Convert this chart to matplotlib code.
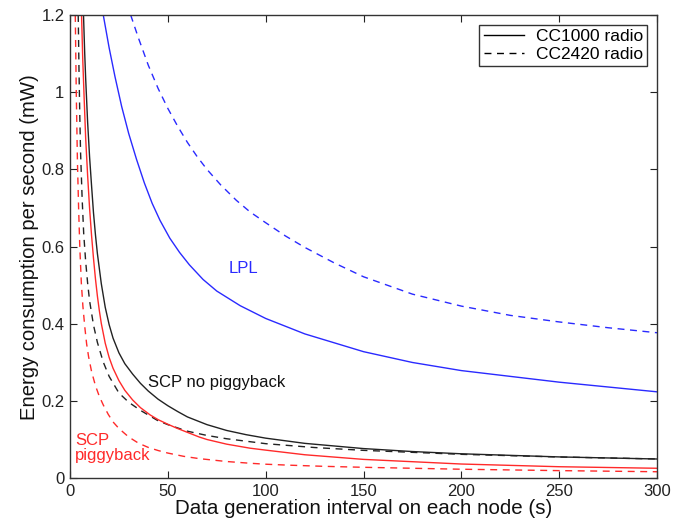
import matplotlib
matplotlib.use("Agg")
import matplotlib.pyplot as plt
from matplotlib.lines import Line2D

plt.rcParams["font.family"] = ["Liberation Sans", "DejaVu Sans"]

# Energy consumption per second (mW) against the data generation interval (s)

# LPL, CC1000 radio
lpl_cc1000_x = [17, 20, 23, 26.4, 30, 34, 38, 42, 46, 51, 56, 61, 68, 75, 87, 100, 120, 150, 175, 200, 250, 300]
lpl_cc1000_y = [1.2, 1.115, 1.04, 0.963, 0.893, 0.826, 0.765, 0.712, 0.668, 0.622, 0.585, 0.553, 0.515, 0.485, 0.447, 0.414, 0.374, 0.328, 0.300, 0.279, 0.249, 0.224]

# LPL, CC2420 radio
lpl_cc2420_x = [31, 35, 40, 45, 50, 55, 60, 65, 70, 77, 85, 92, 100, 110, 120, 135, 150, 175, 200, 225, 250, 275, 300]
lpl_cc2420_y = [1.2, 1.14, 1.07, 1.01, 0.958, 0.912, 0.870, 0.833, 0.80, 0.76, 0.72, 0.69, 0.662, 0.628, 0.598, 0.558, 0.522, 0.477, 0.446, 0.422, 0.405, 0.390, 0.377]

# SCP without piggyback, CC1000 radio
scp_cc1000_x = [6.9, 7.5, 8, 9, 10, 11, 12, 13, 14, 16, 18, 20, 22, 25, 28, 32, 36, 40, 45, 50, 55, 60, 70, 80, 90, 100, 120, 150, 175, 200, 250, 300]
scp_cc1000_y = [1.2, 1.103, 1.036, 0.923, 0.833, 0.759, 0.688, 0.631, 0.582, 0.504, 0.443, 0.398, 0.363, 0.325, 0.297, 0.270, 0.246, 0.226, 0.205, 0.188, 0.173, 0.159, 0.139, 0.124, 0.113, 0.104, 0.0905, 0.077, 0.0693, 0.0635, 0.0554, 0.050]

# SCP without piggyback, CC2420 radio
scp_cc2420_x = [4.2, 4.6, 5.0, 5.4, 6.2, 7.0, 8.0, 9.0, 10, 12, 14, 17, 20, 25, 30, 36, 45, 50, 60, 70, 80, 100, 125, 150, 200, 250, 300]
scp_cc2420_y = [1.2, 1.056, 0.940, 0.844, 0.725, 0.634, 0.562, 0.506, 0.460, 0.397, 0.352, 0.301, 0.264, 0.221, 0.197, 0.176, 0.149, 0.139, 0.122, 0.111, 0.1025, 0.0897, 0.0797, 0.0724, 0.0621, 0.0552, 0.0501]

# SCP with piggyback, CC1000 radio
scpp_cc1000_x = [5.9, 6.5, 7.3, 8, 9, 10, 11, 12, 13, 14, 15, 16, 18, 20, 22, 25, 28, 32, 36, 41, 45, 50, 55, 60, 66, 70, 80, 92, 100, 120, 150, 200, 250, 300]
scpp_cc1000_y = [1.2, 1.087, 0.975, 0.882, 0.785, 0.70, 0.63, 0.57, 0.517, 0.472, 0.434, 0.401, 0.350, 0.313, 0.285, 0.253, 0.228, 0.203, 0.183, 0.164, 0.152, 0.140, 0.129, 0.119, 0.107, 0.1005, 0.0885, 0.078, 0.073, 0.061, 0.049, 0.037, 0.030, 0.026]

# SCP with piggyback, CC2420 radio
scpp_cc2420_x = [2.7, 3.2, 3.8, 4.4, 5.0, 5.8, 6.6, 7.6, 8.5, 9.5, 11, 13, 15, 17, 19.5, 22, 25, 30, 35, 40, 45, 50, 58, 66, 80, 92, 100, 112, 130, 150, 175, 200, 250, 300]
scpp_cc2420_y = [1.2, 1.0, 0.82, 0.70, 0.60, 0.505, 0.445, 0.39, 0.348, 0.315, 0.277, 0.240, 0.212, 0.19, 0.166, 0.146, 0.129, 0.107, 0.091, 0.080, 0.072, 0.0654, 0.057, 0.051, 0.0435, 0.039, 0.0365, 0.034, 0.031, 0.0285, 0.026, 0.0235, 0.0199, 0.017]

x_ticks = [0, 50, 100, 150, 200, 250, 300]
y_ticks = [0, 0.2, 0.4, 0.6, 0.8, 1.0, 1.2]
y_tick_labels = ["0", "0.2", "0.4", "0.6", "0.8", "1", "1.2"]

BLUE = "#2a2aff"
RED = "#ff2a2a"
BLACK = "#222222"
dash = (0, (5, 4))

fig = plt.figure(figsize=(6.77, 5.24), dpi=100)
ax = fig.add_axes([0.1034, 0.0872, 0.8671, 0.8842])

lw = 1.0
ax.plot(lpl_cc1000_x, lpl_cc1000_y, color=BLUE, lw=lw)
ax.plot(lpl_cc2420_x, lpl_cc2420_y, color=BLUE, lw=lw, linestyle=dash)
ax.plot(scp_cc1000_x, scp_cc1000_y, color=BLACK, lw=lw)
ax.plot(scp_cc2420_x, scp_cc2420_y, color=BLACK, lw=lw, linestyle=dash)
ax.plot(scpp_cc1000_x, scpp_cc1000_y, color=RED, lw=lw)
ax.plot(scpp_cc2420_x, scpp_cc2420_y, color=RED, lw=lw, linestyle=dash)

ax.set_xlim(0, 300)
ax.set_ylim(0, 1.2)
ax.set_xticks(x_ticks)
ax.set_yticks(y_ticks)
ax.set_yticklabels(y_tick_labels)
ax.tick_params(direction="in", top=True, right=True, length=5, width=0.8,
               labelsize=12, colors="#222222", pad=4)
for s in ax.spines.values():
    s.set_color("#333333")
    s.set_linewidth(1.0)

ax.set_xlabel("Data generation interval on each node (s)", fontsize=14.8, labelpad=0, color="#111111")
ax.set_ylabel("Energy consumption per second (mW)", fontsize=14.6, labelpad=2, color="#111111")

ax.text(81, 0.544, "LPL", color=BLUE, fontsize=12, va="center", ha="left")
ax.text(40, 0.247, "SCP no piggyback", color="#111111", fontsize=12, va="center", ha="left")
ax.text(2.5, 0.079, "SCP\npiggyback", color=RED, fontsize=12, va="center", ha="left",
        linespacing=1.05)

handles = [Line2D([], [], color="black", lw=1.0),
           Line2D([], [], color="black", lw=1.0, linestyle=dash)]
leg = ax.legend(handles, ["CC1000 radio", "CC2420 radio"], loc="upper right",
                fontsize=12.5, frameon=True, fancybox=False, borderaxespad=0.55,
                handlelength=2.3, borderpad=0.25, labelspacing=0.15, handletextpad=0.7)
leg.get_frame().set_edgecolor("black")
leg.get_frame().set_linewidth(1.0)

fig.savefig("out.png", dpi=100)
